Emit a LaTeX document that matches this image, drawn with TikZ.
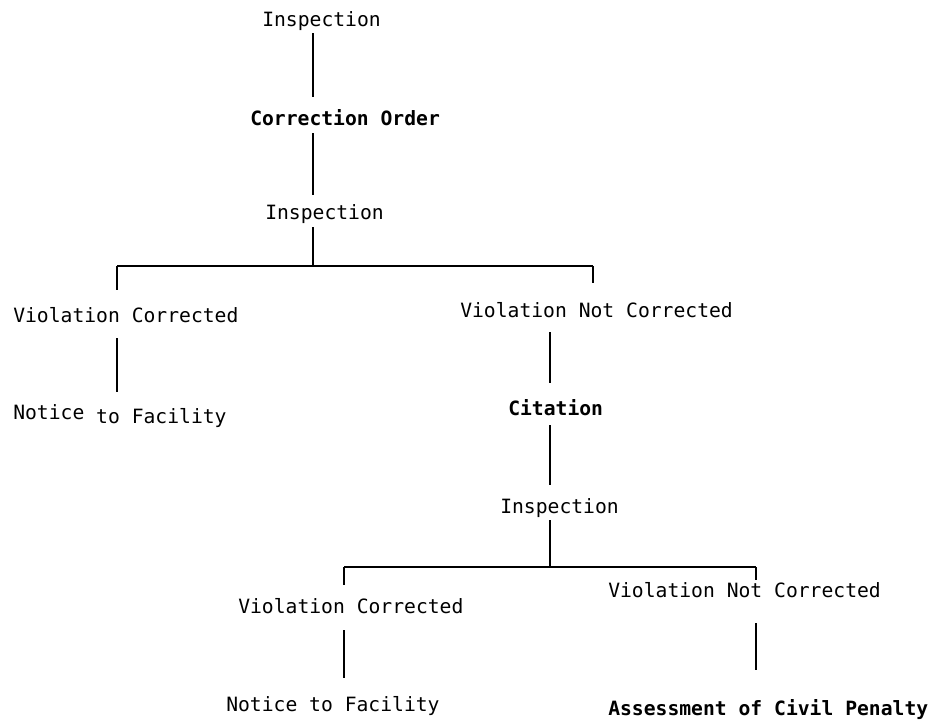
\documentclass[tikz,border=0pt]{standalone}
\usepackage{fontspec}
\setmonofont{DejaVu Sans Mono}
\usepackage{tikz}

\begin{document}
\begin{tikzpicture}[
    txt/.style={anchor=base west, inner sep=0pt, text height=10.5pt, text depth=3.3pt, font=\ttfamily\fontsize{14}{16}\selectfont},
    strong/.style={txt, font=\ttfamily\bfseries\fontsize{14}{16}\selectfont},
    trunk/.style={line width=2pt},
    bar/.style={line width=1.3pt}
  ]
  \fill[white] (0,0) rectangle (23.475,-18.025);

  % First inspection and order
  \node[txt] (insp1) at (6.55,-0.675) {Inspection};
  \node[strong] (order) at (6.25,-3.15) {Correction Order};
  \node[txt] (insp2) at (6.625,-5.5) {Inspection};

  % First branch
  \node[txt] (corr1) at (0.325,-8.05) {Violation Corrected};
  \node[txt] (notice1) at (0.325,-10.475) {Notice \raisebox{-3pt}{to Facility}};
  \node[txt] (notcorr1) at (11.5,-7.95) {Violation Not Corrected};
  \node[strong] (citation) at (12.7,-10.375) {Citation};
  \node[txt] (insp3) at (12.5,-12.825) {Inspection};

  % Second branch
  \node[txt] (corr2) at (5.95,-15.325) {Violation Corrected};
  \node[txt] (notice2) at (5.65,-17.775) {Notice to Facility};
  \node[txt] (notcorr2) at (15.2,-14.925) {Violation Not Corrected};
  \node[strong] (penalty) at (15.2,-17.875) {Assessment of Civil Penalty};

  % Forks
  \coordinate (fork1) at (7.825,-6.65);
  \coordinate (fork1l) at (2.925,-6.65);
  \coordinate (fork1r) at (14.825,-6.65);
  \coordinate (fork2) at (13.75,-14.175);
  \coordinate (fork2l) at (8.6,-14.175);
  \coordinate (fork2r) at (18.9,-14.175);

  % Lines
  \draw[trunk, shorten <=1pt, shorten >=10pt] (insp1.south -| fork1) -- (order.north -| fork1);
  \draw[trunk, shorten <=1.6pt, shorten >=7pt] (order.south -| fork1) -- (insp2.north -| fork1);
  \draw[trunk, shorten <=1.6pt] (insp2.south -| fork1) -- (fork1);
  \draw[bar] (fork1l) -- (fork1r);
  \draw[trunk, shorten >=12pt] (fork1l) -- (corr1.north -| fork1l);
  \draw[trunk, shorten >=14pt] (fork1r) -- (notcorr1.north -| fork1r);
  \draw[trunk, shorten <=8pt, shorten >=8.5pt] (corr1.south -| fork1l) -- (notice1.north -| fork1l);
  \draw[trunk, shorten <=6.6pt, shorten >=12pt] (notcorr1.south -| fork2) -- (citation.north -| fork2);
  \draw[trunk, shorten <=3.8pt, shorten >=9.2pt] (citation.south -| fork2) -- (insp3.north -| fork2);
  \draw[trunk, shorten <=1.6pt] (insp3.south -| fork2) -- (fork2);
  \draw[bar] (fork2l) -- (fork2r);
  \draw[trunk, shorten >=9pt] (fork2l) -- (corr2.north -| fork2l);
  \draw[trunk, shorten >=1.4pt] (fork2r) -- (notcorr2.north -| fork2r);
  \draw[trunk, shorten <=8.7pt, shorten >=12.8pt] (corr2.south -| fork2l) -- (notice2.north -| fork2l);
  \draw[trunk, shorten <=15pt, shorten >=21pt] (notcorr2.south -| fork2r) -- (penalty.north -| fork2r);

\end{tikzpicture}
\end{document}
